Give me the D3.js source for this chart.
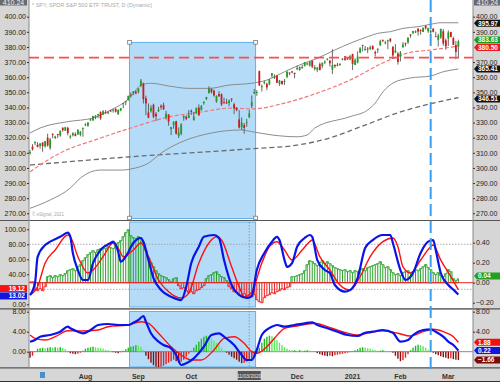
<!DOCTYPE html>
<html>
<head>
<meta charset="utf-8">
<script src="https://cdn.jsdelivr.net/npm/d3@7"></script>
<style>
  body { margin: 0; background: #fff; }
  svg { display: block; font-family: "Liberation Sans", Arial, sans-serif; }
</style>
</head>
<body>
<svg id="chart" width="500" height="382"></svg>
<script>
// ---- data ----
const title = "* SPY, SPDR S&P 500 ETF TRUST, D (Dynamic)";
const monthLabels = ["Aug", "Sep", "Oct", "Dec", "2021", "Feb", "Mar"];
const monthIndex = [22, 43, 64, 106, 128, 147, 166];
const electionIndex = 87;
const electionLabel = "11/03/2020";
const markerIndex = 159;          // blue dashed vertical
const levelPrice = 373;           // red dashed horizontal
const selection = [40, 89, 383];  // from bar, to bar, top price

// daily bars Jul 1 2020 .. Mar 5 2021: open, high, low, close
const ohlc = [
  [309.6,311.9,309.0,310.5],[314.2,315.7,311.5,312.2],[316.4,317.7,315.0,317.1],[315.4,317.1,313.7,313.8],
  [314.6,316.3,312.7,316.2],[316.8,317.1,310.7,314.4],[314.3,317.9,313.4,317.6],[320.1,322.7,314.1,314.8],
  [313.3,319.8,312.0,318.9],[322.4,323.0,319.6,321.9],[319.8,321.3,319.1,320.8],[322.4,322.6,319.7,321.7],
  [321.4,325.1,320.6,324.3],[326.5,326.9,323.9,325.0],[324.6,327.2,324.5,326.9],[326.5,327.2,321.5,323.0],
  [320.9,321.9,319.2,320.9],[321.6,323.4,320.8,323.2],[322.4,323.6,320.8,321.2],[322.1,325.7,322.0,325.1],
  [321.9,324.4,320.9,324.0],[325.9,326.6,320.6,326.5],
  [328.3,329.6,327.7,328.8],[327.9,330.1,327.2,330.1],[331.5,332.4,331.2,332.1],[331.5,334.5,331.0,334.3],
  [333.3,334.9,332.2,334.6],[335.1,335.8,332.9,335.6],[336.9,337.5,331.8,332.8],[335.4,338.3,334.9,337.4],
  [336.9,338.3,335.8,336.8],[336.5,337.4,335.6,336.8],[338.0,338.3,336.9,337.9],[338.3,339.1,336.6,338.6],
  [339.0,339.6,336.6,337.2],[335.4,338.8,335.2,338.3],[337.9,339.7,337.5,339.5],[342.1,343.0,339.5,342.9],
  [343.5,344.2,341.5,344.1],[344.8,347.9,344.5,347.6],[348.5,349.9,346.5,348.3],[349.4,350.7,348.2,350.6],
  [350.4,351.3,348.6,349.3],
  [350.4,352.7,349.2,352.6],[354.7,358.8,353.4,357.7],[355.9,356.4,342.6,345.4],[346.1,347.8,334.9,342.6],
  [336.7,342.6,332.9,333.2],[337.6,341.5,336.6,339.8],[341.8,342.5,332.9,333.9],[335.8,336.9,331.0,334.1],
  [337.5,340.4,337.0,338.5],[341.1,342.0,338.5,340.2],[341.5,343.1,338.4,338.8],[333.6,337.7,332.0,335.8],
  [335.4,335.5,327.9,330.7],[325.7,327.1,321.7,327.0],[328.6,330.9,325.9,330.3],[330.9,331.2,322.1,322.6],
  [321.2,326.8,319.8,323.5],[322.6,329.6,321.6,328.7],[333.2,334.9,331.2,334.2],[333.9,334.8,331.6,332.4],
  [333.1,338.3,332.9,334.9],
  [337.7,338.7,335.0,337.0],[331.7,337.0,331.2,333.8],[336.1,339.8,335.9,339.8],[339.9,342.0,334.4,334.9],
  [338.1,341.6,338.1,340.8],[342.9,343.9,341.8,343.8],[345.6,347.0,344.9,346.9],[349.6,354.0,349.1,352.4],
  [352.3,352.5,349.2,350.1],[351.0,351.9,347.1,347.9],[343.7,348.0,343.1,347.5],[348.9,350.8,347.2,347.3],
  [348.7,349.3,341.0,342.0],[343.5,346.4,342.5,343.4],[343.3,345.7,342.3,342.7],[342.9,345.2,340.9,344.6],
  [345.9,346.0,343.6,345.8],[342.1,343.0,335.6,339.4],[339.8,340.1,337.5,338.2],[332.1,338.3,326.1,326.7],
  [326.9,333.4,325.1,330.0],[328.3,329.7,322.6,326.5],
  [330.2,332.4,327.2,330.2],[333.7,338.3,332.9,336.0],[340.9,347.9,339.6,343.5],[349.2,352.2,348.9,350.2],
  [349.9,351.5,347.7,350.2],[364.0,364.4,354.1,354.6],[353.5,355.2,350.5,354.0],[356.4,357.6,355.3,356.7],
  [355.6,356.4,351.3,353.2],[355.3,358.9,354.7,358.1],[361.0,362.8,359.6,362.6],[359.5,361.9,358.8,360.6],
  [360.9,361.5,356.2,356.3],[355.6,358.2,354.2,357.8],[357.5,357.7,355.2,355.3],[357.3,358.8,354.9,357.5],
  [360.2,363.8,359.3,363.7],[363.1,363.2,361.3,362.7],[363.8,364.2,362.6,363.7],[362.8,363.1,359.2,362.1],
  [365.6,367.7,364.6,366.0],[364.8,367.0,364.2,366.8],[366.7,368.2,365.5,366.7],[367.3,369.9,367.2,369.9],
  [369.0,369.6,367.9,369.1],[367.7,370.8,367.0,370.2],[370.9,371.1,366.0,366.9],[365.4,367.9,364.4,366.7],
  [364.9,366.7,363.3,366.3],[368.6,369.8,364.5,364.7],[367.4,369.6,365.9,369.6],[369.8,371.2,368.7,370.2],
  [371.9,372.5,371.1,372.2],[371.0,371.2,367.0,369.2],[365.0,378.5,362.0,367.9],[368.2,368.3,366.0,367.2],
  [368.3,369.6,367.2,367.6],[368.1,369.0,367.5,369.0],[371.7,372.6,371.1,372.2],[373.8,374.0,370.8,371.5],
  [372.3,373.1,371.6,372.0],[371.8,374.7,371.2,373.9],
  [375.3,375.5,364.8,368.8],[368.1,372.5,368.1,371.3],[369.7,377.0,369.1,373.6],[376.2,379.9,375.9,379.1],
  [380.6,381.5,377.1,381.3],[377.8,380.6,377.7,378.7],[378.9,379.9,375.9,378.8],[378.7,380.9,377.8,379.8],
  [380.6,381.1,378.1,378.5],[376.7,377.6,373.7,375.7],[378.3,379.2,376.0,378.7],[381.1,384.8,380.7,383.9],
  [384.5,385.0,383.3,384.2],[382.3,384.1,381.8,382.9],[383.7,384.8,378.5,384.4],[385.4,385.9,383.0,383.8],
  [380.2,380.3,372.0,374.4],[376.4,381.9,375.9,377.6],[375.6,376.7,368.3,370.1],
  [373.7,377.3,370.4,376.2],[379.7,383.2,379.7,381.6],[382.4,382.9,380.3,381.9],[383.0,386.2,382.0,386.2],
  [388.2,388.5,386.1,387.7],[389.3,390.6,388.4,390.5],[389.6,391.0,389.2,390.3],[392.1,392.3,387.5,390.1],
  [391.2,391.7,388.1,390.7],[389.9,392.9,389.8,392.6],[394.0,394.2,391.5,392.3],[390.4,392.7,389.3,392.4],
  [389.6,391.5,387.7,390.7],[392.1,392.4,389.6,390.0],[387.1,390.1,386.9,387.0],[384.7,388.8,380.2,387.5],
  [386.3,392.2,385.3,391.8],[390.4,391.9,380.8,382.3],[384.4,385.6,378.2,380.4],
  [385.6,390.9,380.6,389.6],[389.8,390.1,386.5,386.5],[385.8,386.8,381.3,381.4],[381.2,384.0,371.9,376.7],
  [380.5,384.8,372.6,383.63]
];

// overlays on the price panel: [bar, value]
const upperBand = [[0,323.1],[4,326.4],[15,330.6],[25,333.0],[32,338.3],[37,342.9],[40,347.1],[44,354.8],
  [48,356.0],[55,354.2],[63,352.6],[71,352.6],[79,354.8],[88,356.0],[94,358.1],[101,363.6],[107,368.1],
  [114,372.5],[121,378.0],[127,382.4],[134,386.8],[138,389.0],[143,390.1],[148,392.3],[154,393.4],
  [159,395.0],[163,396.0],[170,395.97]];
const lowerBand = [[0,273.3],[8,278.8],[16,286.7],[20,293.3],[28,298.6],[37,298.6],[40,299.3],[47,303.2],
  [52,309.8],[60,317.1],[72,323.1],[84,325.1],[88,324.0],[96,321.8],[106,320.6],[110,321.8],[113,326.4],
  [127,333.9],[134,338.3],[137,342.9],[140,350.2],[144,356.1],[151,359.5],[159,360.8],[164,363.6],[170,365.41]];
const ma50 = [[0,297.5],[12,309.9],[28,319.8],[40,326.4],[55,333.7],[68,337.0],[80,339.6],[88,339.0],
  [101,342.9],[114,349.5],[127,358.1],[140,369.4],[150,376.0],[159,378.0],[170,380.50]];
const ma200 = [[0,301.9],[40,307.4],[88,312.7],[106,315.1],[119,319.8],[131,327.1],[147,337.0],[170,346.51]];

// middle panel: stochastic %K / %D (0..100) and histogram (right scale)
const stochK = [[0,12.4],[2,28.4],[3,63],[6,79],[8,83.5],[12,90],[15,95.5],[16,90],[17,68.4],[19,45.7],
  [21,32.4],[23,32.4],[25,55],[28,72.4],[32,81.7],[33,83.5],[35,70],[36,56.8],[38,63.5],[41,81.7],[44,88.4],
  [45,83.5],[47,59],[49,35],[52,19],[56,10],[60,5.7],[62,23.5],[64,55],[67,76.8],[69,90],[73,92.4],[75,88.4],
  [77,59],[80,25.7],[83,12.4],[86,8.4],[88,11],[90,45.7],[93,68.4],[96,83.5],[98,90],[99,85.7],[101,59],
  [102,50],[104,55],[106,76.8],[109,88.4],[111,92.4],[112,90],[114,59],[117,45.7],[119,41.7],[121,25.7],
  [125,16.8],[127,19],[130,35],[133,75],[136,85.7],[140,92.4],[143,92.4],[144,81.7],[147,45.7],[149,32.4],
  [152,41.7],[155,68.4],[158,83.5],[160,85.7],[161,72.4],[163,41.7],[166,25.7],[168,19.5],[170,13.02]];
const stochD = [[0,12.4],[3,23.5],[6,55],[10,72.4],[15,92.4],[16,90],[19,63.5],[23,41.7],[25,45.7],
  [29,63.5],[33,81.7],[35,75],[37,63.5],[41,72.4],[44,81.7],[47,63.5],[51,32.4],[55,16.8],[60,8.4],[63,15],
  [67,55],[71,81.7],[74,90],[76,85.7],[80,50],[83,23.5],[85,10],[88,16.4],[92,55],[95,76.8],[98,83.5],
  [101,72.4],[104,59],[108,72.4],[111,83.5],[112,85.7],[115,63.5],[119,45.7],[123,25.7],[127,19],[131,36.8],
  [135,63.5],[140,83.5],[144,88.4],[146,76.8],[148,50],[151,41.7],[155,59],[159,76.8],[160,79],[163,59],
  [167,36.8],[170,19.12]];
const histMid = [
  0.01,0.01,
  -0.07,-0.08,-0.06,-0.08,-0.04,
  0.06,0.07,0.05,0.07,0.06,0.08,0.07,0.09,
  0.12,0.13,0.14,0.12,
  0.16,0.18,
  0.22,0.25,0.28,0.30,0.32,0.30,0.33,0.34,
  0.35,0.34,0.36,0.35,
  0.34,0.38,0.40,
  0.42,0.46,0.50,0.53,
  0.47,0.45,
  0.44,0.46,0.44,0.40,
  0.32,0.25,0.20,0.16,
  0.12,0.09,0.07,0.06,
  0.05,0.03,0.01,
  0.04,0.05,
  -0.03,-0.06,-0.05,-0.08,
  -0.10,-0.09,-0.11,-0.08,-0.07,
  -0.05,-0.03,
  0.04,0.07,0.08,0.10,0.11,0.08,0.06,
  0.05,0.02,
  -0.04,-0.06,-0.09,-0.10,-0.12,-0.14,-0.11,-0.15,-0.13,
  -0.14,-0.12,-0.17,-0.19,-0.20,
  -0.15,-0.13,-0.12,-0.10,-0.11,-0.09,-0.08,
  -0.06,-0.07,-0.05,-0.04,
  0.06,0.06,
  0.07,0.08,0.09,
  0.12,0.18,0.22,0.21,
  0.19,0.17,0.20,
  0.22,0.19,0.21,0.19,
  0.17,0.15,0.14,0.13,
  0.12,0.13,0.11,0.12,
  0.10,0.12,0.11,0.13,
  0.14,0.12,0.15,0.16,
  0.17,0.18,0.19,0.21,0.18,
  0.15,0.16,0.13,
  0.10,0.08,0.09,0.07,
  0.10,0.11,0.12,0.10,
  0.11,0.13,0.12,0.14,
  0.16,0.18,0.15,
  0.13,0.10,0.08,
  0.10,0.07,0.06,
  0.09,0.13,0.11,
  0.04,0.02,0.04
];

// bottom panel: MACD, signal, histogram
const macd = [[0,2.0],[2,2.34],[4,3.0],[8,3.34],[12,4.0],[15,5.0],[16,4.68],[19,4.0],[21,3.68],[24,4.34],
  [27,5.34],[31,5.54],[35,5.34],[39,5.34],[41,5.8],[43,6.34],[45,7.14],[46,6.0],[48,3.68],[51,2.0],[53,1.34],
  [56,0.68],[58,-0.66],[60,-2.66],[62,-2.32],[65,-1.32],[69,1.0],[72,3.34],[75,3.68],[77,3.0],[81,1.34],
  [84,-0.66],[86,-1.66],[88,-1.66],[90,0.34],[92,3.34],[96,5.0],[98,5.34],[101,5.0],[105,5.34],[109,5.68],
  [112,5.88],[114,5.34],[118,4.68],[122,4.0],[126,3.34],[130,3.14],[133,3.8],[136,4.0],[140,4.34],[144,3.8],
  [147,2.0],[150,2.34],[152,3.34],[156,4.34],[159,4.48],[161,4.0],[164,3.0],[166,2.0],[168,1.34],[170,0.22]];
const signal = [[0,3.34],[2,2.68],[6,2.34],[10,3.0],[15,4.2],[21,4.14],[27,4.34],[31,5.0],[39,5.34],[44,6.0],
  [47,5.68],[51,3.68],[56,1.0],[60,-0.66],[64,-1.66],[68,-1.66],[73,0.34],[77,2.68],[81,3.0],[85,1.68],[88,0],
  [90,-0.32],[94,1.0],[97,2.68],[101,4.68],[106,5.14],[113,5.68],[118,5.0],[124,4.0],[130,3.34],[135,3.8],
  [140,4.2],[146,3.68],[151,3.14],[156,4.0],[160,4.48],[164,4.0],[168,3.0],[170,1.88]];
const histLow = [
  -1.2,-0.8,
  0.1,
  0.6,0.7,0.8,0.7,0.8,0.9,0.8,0.9,0.8,0.9,0.7,0.5,
  0.2,
  -0.3,-0.4,-0.5,-0.4,-0.2,
  0.2,
  0.6,0.8,0.9,1.0,0.9,0.8,0.7,0.6,0.4,0.3,
  0.1,-0.1,-0.2,-0.3,-0.1,0.2,0.5,
  0.8,1.0,1.1,1.3,1.2,1.0,
  0.4,
  -0.8,-1.5,-2.2,-2.7,-3.0,-3.1,-3.0,-2.8,-2.5,-2.2,-1.9,-1.6,
  -1.9,-2.2,-2.0,-1.6,-1.0,
  -0.4,0.2,
  0.8,1.4,2.0,2.6,3.0,3.2,3.0,2.7,
  2.2,1.8,1.3,0.8,
  0.3,-0.2,-0.6,
  -1.0,-1.3,-1.6,-2.0,-2.3,-2.2,-2.0,-1.8,
  -1.5,-1.0,-0.3,
  0.8,1.8,2.6,3.0,3.2,3.1,2.8,2.3,1.8,
  1.3,0.9,0.6,0.4,0.3,
  0.3,0.2,0.3,0.2,0.2,0.3,0.2,0.1,0.0,
  -0.3,-0.5,-0.7,-0.8,-0.9,-0.8,-0.9,-0.7,-0.6,-0.5,-0.4,-0.3,
  -0.2,-0.1,0.1,0.3,0.5,
  0.8,0.9,0.8,0.7,0.6,0.4,
  0.3,0.2,0.2,0.3,0.2,0.1,0.0,-0.2,
  -0.8,-1.4,-1.9,-1.7,-1.2,-0.5,
  0.3,0.8,1.2,1.4,1.3,1.1,0.8,
  0.4,0.1,-0.2,
  -0.5,-0.7,-0.9,-1.1,-1.2,-1.4,-1.3,-1.5,-1.6,-1.66
];

const priceTicks = [400,390,380,370,360,350,340,330,320,310,300,290,280,270];
const priceTicksRight = [400,390,370,360,350,340,330,320,310,300,290,280,270];
const stochTicks = [100,80,60,40,0];
const histTicks = [0.4,0.2,0,-0.2];
const macdTicks = [8,4,0];
const macdTicksRight = [8,4];
const topPriceLabel = "410.24";

// ---- layout ----
const W = 500, H = 382;
const L = 29, R = 473;
const panels = {
  top: { y0: 0, y1: 220 },
  mid: { y0: 221, y1: 308 },
  low: { y0: 310, y1: 367.5 }
};
const fmt = d3.format(".2f");

const svg = d3.select("#chart");

const x = d3.scaleLinear().domain([0, 176]).range([30, 30 + 176 * 2.52]);
const yPrice = d3.scaleLinear().domain([270, 400]).range([213.3, 16.7]);
const yStoch = d3.scaleLinear().domain([0, 100]).range([304.3, 229.3]);
const yHist = d3.scaleLinear().domain([-0.2, 0.4]).range([302.7, 242.7]);
const yMacd = d3.scaleLinear().domain([0, 8]).range([351.7, 311.7]);

// backgrounds
svg.append("rect").attr("width", W).attr("height", H).attr("fill", "#d6d6d6");
Object.entries(panels).forEach(([k, p]) => {
  svg.append("rect").attr("x", L).attr("y", p.y0).attr("width", R - L).attr("height", p.y1 - p.y0).attr("fill", "#fff");
  const cp = svg.append("clipPath").attr("id", "clip-" + k);
  cp.append("rect").attr("x", L).attr("y", p.y0).attr("width", R - L).attr("height", p.y1 - p.y0);
});
// separators
[220.5, 308.8, 367.8].forEach(y => {
  svg.append("line").attr("x1", 0).attr("x2", W).attr("y1", y).attr("y2", y)
    .attr("stroke", "#555").attr("stroke-width", 1.2);
});
svg.append("line").attr("x1", L).attr("x2", L).attr("y1", 0).attr("y2", 368).attr("stroke", "#888");
svg.append("line").attr("x1", R).attr("x2", R).attr("y1", 0).attr("y2", 368).attr("stroke", "#888");

const gTop = svg.append("g").attr("clip-path", "url(#clip-top)");
const gMid = svg.append("g").attr("clip-path", "url(#clip-mid)");
const gLow = svg.append("g").attr("clip-path", "url(#clip-low)");

// selection rectangle in every panel
const selX0 = x(selection[0]) - 1.3, selX1 = x(selection[1]) + 1.3;
[[gTop, yPrice(selection[2]), 218.5], [gMid, 222, 307], [gLow, 311.5, 367]].forEach(([g, y0, y1]) => {
  g.append("rect").attr("x", selX0).attr("y", y0).attr("width", selX1 - selX0).attr("height", y1 - y0)
    .attr("fill", "#b4dcf8").attr("stroke", "#62b0ea").attr("stroke-width", 1);
});

// price panel text
gTop.append("text").attr("x", 32).attr("y", 7).attr("font-size", 5.5).attr("fill", "#a8a8a8").text(title);
gTop.append("text").attr("x", 32).attr("y", 216).attr("font-size", 4.5).attr("fill", "#aaa").text("\u00a9 eSignal, 2021");

// overlays
const lineOf = (ys) => d3.line().x(d => x(d[0])).y(d => ys(d[1])).curve(d3.curveMonotoneX);
gTop.append("path").attr("d", lineOf(yPrice)(ma200)).attr("fill", "none")
  .attr("stroke", "#6a6a6a").attr("stroke-width", 1.3).attr("stroke-dasharray", "5,3");
gTop.append("path").attr("d", lineOf(yPrice)(ma50)).attr("fill", "none")
  .attr("stroke", "#f07878").attr("stroke-width", 1.2).attr("stroke-dasharray", "4,2");
[upperBand, lowerBand].forEach(b => {
  gTop.append("path").attr("d", lineOf(yPrice)(b)).attr("fill", "none")
    .attr("stroke", "#8c8c8c").attr("stroke-width", 1);
});

// candles
const candle = gTop.selectAll("g.candle").data(ohlc).join("g").attr("class", "candle");
candle.append("line")
  .attr("x1", (d, i) => x(i)).attr("x2", (d, i) => x(i))
  .attr("y1", d => yPrice(d[1])).attr("y2", d => yPrice(d[2]))
  .attr("stroke", "#444").attr("stroke-width", 0.8);
candle.append("rect")
  .attr("x", (d, i) => x(i) - 0.9).attr("width", 1.8)
  .attr("y", d => yPrice(Math.max(d[0], d[3])))
  .attr("height", d => Math.max(1, Math.abs(yPrice(d[0]) - yPrice(d[3]))))
  .attr("fill", d => d[3] >= d[0] ? "#1f9e1f" : "#d01a1a");

// level line and markers
svg.append("line").attr("x1", L).attr("x2", R).attr("y1", yPrice(levelPrice)).attr("y2", yPrice(levelPrice))
  .attr("stroke", "#ff4d4d").attr("stroke-width", 1.8).attr("stroke-dasharray", "10,5");

// selection handles
[[selX0, yPrice(selection[2])], [selX1, yPrice(selection[2])], [selX0, 218], [selX1, 218]].forEach(([hx, hy]) => {
  svg.append("rect").attr("x", hx - 1.8).attr("y", hy - 1.8).attr("width", 3.6).attr("height", 3.6)
    .attr("fill", "#fff").attr("stroke", "#666").attr("stroke-width", 0.7);
});

// ---- middle panel ----
[80, 20].forEach(v => {
  gMid.append("line").attr("x1", L).attr("x2", R).attr("y1", yStoch(v)).attr("y2", yStoch(v))
    .attr("stroke", "#999").attr("stroke-dasharray", "1.5,1.5").attr("stroke-width", 0.8);
});
gMid.append("line").attr("x1", x(electionIndex)).attr("x2", x(electionIndex)).attr("y1", 222).attr("y2", 308)
  .attr("stroke", "#888").attr("stroke-dasharray", "1.5,1.5").attr("stroke-width", 0.8);

gMid.selectAll("line.hb").data(histMid).join("line").attr("class", "hb")
  .attr("x1", (d, i) => x(i)).attr("x2", (d, i) => x(i))
  .attr("y1", yHist(0)).attr("y2", d => yHist(d))
  .attr("stroke", d => d >= 0 ? "#2aa02a" : "#ee2020").attr("stroke-width", 1);
gMid.append("path")
  .attr("d", d3.line().x((d, i) => x(i)).y(d => yHist(Math.max(0, d))).curve(d3.curveStep)(histMid))
  .attr("fill", "none").attr("stroke", "#2aa02a").attr("stroke-width", 0.9);
gMid.append("path")
  .attr("d", d3.line().x((d, i) => x(i)).y(d => yHist(Math.min(0, d))).curve(d3.curveStep)(histMid))
  .attr("fill", "none").attr("stroke", "#ee2020").attr("stroke-width", 0.9);
gMid.append("line").attr("x1", L).attr("x2", R).attr("y1", yHist(0)).attr("y2", yHist(0))
  .attr("stroke", "#ee2020").attr("stroke-width", 1);

gMid.append("path").attr("d", lineOf(yStoch)(stochD)).attr("fill", "none")
  .attr("stroke", "#ff1010").attr("stroke-width", 1.4);
gMid.append("path").attr("d", lineOf(yStoch)(stochK)).attr("fill", "none")
  .attr("stroke", "#0a14e8").attr("stroke-width", 2.2);

// ---- bottom panel ----
gLow.append("line").attr("x1", L).attr("x2", R).attr("y1", yMacd(0)).attr("y2", yMacd(0))
  .attr("stroke", "#888").attr("stroke-width", 1);
gLow.append("line").attr("x1", x(electionIndex)).attr("x2", x(electionIndex)).attr("y1", 311).attr("y2", 367)
  .attr("stroke", "#888").attr("stroke-dasharray", "1.5,1.5").attr("stroke-width", 0.8);
gLow.selectAll("rect.hb").data(histLow).join("rect").attr("class", "hb")
  .attr("x", (d, i) => x(i) - 0.7).attr("width", 1.4)
  .attr("y", d => yMacd(Math.max(0, d)))
  .attr("height", d => Math.abs(yMacd(d) - yMacd(0)))
  .attr("fill", (d, i) => {
    const prev = i > 0 ? histLow[i - 1] : d;
    if (d >= 0) return d >= prev ? "#1fb81f" : "#5ee85e";
    return d <= prev ? "#8c0c0c" : "#e42020";
  });
gLow.append("path").attr("d", lineOf(yMacd)(signal)).attr("fill", "none")
  .attr("stroke", "#ff1010").attr("stroke-width", 1.4);
gLow.append("path").attr("d", lineOf(yMacd)(macd)).attr("fill", "none")
  .attr("stroke", "#0a14e8").attr("stroke-width", 2.2);

// blue dashed marker over all panels
svg.append("line").attr("x1", x(markerIndex)).attr("x2", x(markerIndex)).attr("y1", 0).attr("y2", 372)
  .attr("stroke", "#3a9ef0").attr("stroke-width", 2).attr("stroke-dasharray", "12,5");

// ---- axes ----
function styleAxis(g) {
  g.select(".domain").remove();
  g.selectAll(".tick line").attr("stroke", "#333");
  g.selectAll(".tick text").attr("font-size", 7).attr("fill", "#222")
    .attr("font-family", "'Liberation Sans', Arial, sans-serif");
}
function leftAxis(scale, ticks, f) {
  svg.append("g").attr("transform", `translate(${L},0)`)
    .call(d3.axisLeft(scale).tickValues(ticks).tickFormat(f).tickSize(2).tickPadding(1))
    .call(styleAxis);
}
function rightAxis(scale, ticks, f) {
  svg.append("g").attr("transform", `translate(${R},0)`)
    .call(d3.axisRight(scale).tickValues(ticks).tickFormat(f).tickSize(2).tickPadding(1))
    .call(styleAxis);
}
leftAxis(yPrice, priceTicks, fmt);
rightAxis(yPrice, priceTicksRight, fmt);
leftAxis(yStoch, stochTicks, fmt);
rightAxis(yHist, histTicks, fmt);
leftAxis(yMacd, macdTicks, fmt);
rightAxis(yMacd, macdTicksRight, fmt);

// value tags: spread them so they do not sit on each other or on tick labels
const TAG_H = 7;
function spread(tags, obstacles) {
  tags.sort((a, b) => a.y - b.y);
  for (let pass = 0; pass < 40; pass++) {
    for (let k = 1; k < tags.length; k++) {
      const gap = tags[k].y - tags[k - 1].y;
      if (gap < TAG_H + 0.4) {
        const push = (TAG_H + 0.4 - gap) / 2;
        tags[k - 1].y -= push; tags[k].y += push;
      }
    }
    tags.forEach(t => obstacles.forEach(o => {
      const d = t.y - o;
      if (Math.abs(d) < 6.6) t.y = o + (d >= 0 ? 6.6 : -6.6);
    }));
  }
  return tags;
}
function tagRight(t) {
  const g = svg.append("g").attr("transform", `translate(${R + 1},${t.y})`);
  g.append("path").attr("d", `M0,0 L3,${-TAG_H / 2} L27,${-TAG_H / 2} L27,${TAG_H / 2} L3,${TAG_H / 2} Z`).attr("fill", t.fill);
  g.append("text").attr("x", 4).attr("y", 2.3).attr("font-size", 6.5).attr("font-weight", "bold")
    .attr("fill", "#fff").text(t.text);
}
function tagLeft(t) {
  const g = svg.append("g").attr("transform", `translate(0,${t.y})`);
  g.append("rect").attr("x", 0).attr("y", -TAG_H / 2).attr("width", 27).attr("height", TAG_H).attr("fill", t.fill);
  g.append("text").attr("x", 25).attr("y", 2.3).attr("text-anchor", "end").attr("font-size", 6.5)
    .attr("font-weight", "bold").attr("fill", "#fff").text(t.text);
}
const last = arr => { const v = arr[arr.length - 1]; return Array.isArray(v) ? v[1] : v; };
const lastClose = ohlc[ohlc.length - 1][3];
const tagOf = (scale, v, fill) => ({ y: scale(v), text: fmt(v), fill });

spread([
  tagOf(yPrice, last(upperBand), "#111"),
  tagOf(yPrice, lastClose, "#1a9e1a"),
  tagOf(yPrice, last(ma50), "#f01818"),
  tagOf(yPrice, last(lowerBand), "#111"),
  tagOf(yPrice, last(ma200), "#111")
], priceTicksRight.map(yPrice)).forEach(tagRight);
spread([tagOf(yHist, last(histMid), "#22a022")], histTicks.map(yHist)).forEach(tagRight);
spread([
  tagOf(yMacd, last(signal), "#ee1111"),
  tagOf(yMacd, last(macd), "#1414e0"),
  tagOf(yMacd, last(histLow), "#7a0c0c")
], macdTicksRight.map(yMacd)).forEach(tagRight);
spread([
  tagOf(yStoch, last(stochD), "#ff1010"),
  tagOf(yStoch, last(stochK), "#1414e0")
], stochTicks.map(yStoch)).forEach(tagLeft);

// top price readout boxes
[[0, 27], [R + 1, 27]].forEach(([bx, bw]) => {
  svg.append("rect").attr("x", bx).attr("y", -2).attr("width", bw).attr("height", 7.5).attr("fill", "#6a6a6a");
  svg.append("text").attr("x", bx + bw / 2).attr("y", 4.5).attr("text-anchor", "middle")
    .attr("font-size", 7).attr("fill", "#eee").text(topPriceLabel);
});

// ---- time axis ----
svg.selectAll("text.month").data(monthLabels).join("text").attr("class", "month")
  .attr("x", (d, i) => x(monthIndex[i])).attr("y", 378.5).attr("text-anchor", "middle")
  .attr("font-size", 7).attr("font-weight", "bold").attr("fill", "#333").text(d => d);
svg.append("rect").attr("x", x(electionIndex) - 11.5).attr("y", 371).attr("width", 23).attr("height", 9)
  .attr("fill", "#555");
svg.append("text").attr("x", x(electionIndex)).attr("y", 377.6).attr("text-anchor", "middle")
  .attr("font-size", 5).attr("fill", "#eee").text(electionLabel);
svg.append("rect").attr("x", 40).attr("y", 372).attr("width", 5).attr("height", 6).attr("fill", "#4a8fcc");
svg.append("line").attr("x1", 0).attr("x2", W).attr("y1", 381.5).attr("y2", 381.5).attr("stroke", "#333");
</script>
</body>
</html>
